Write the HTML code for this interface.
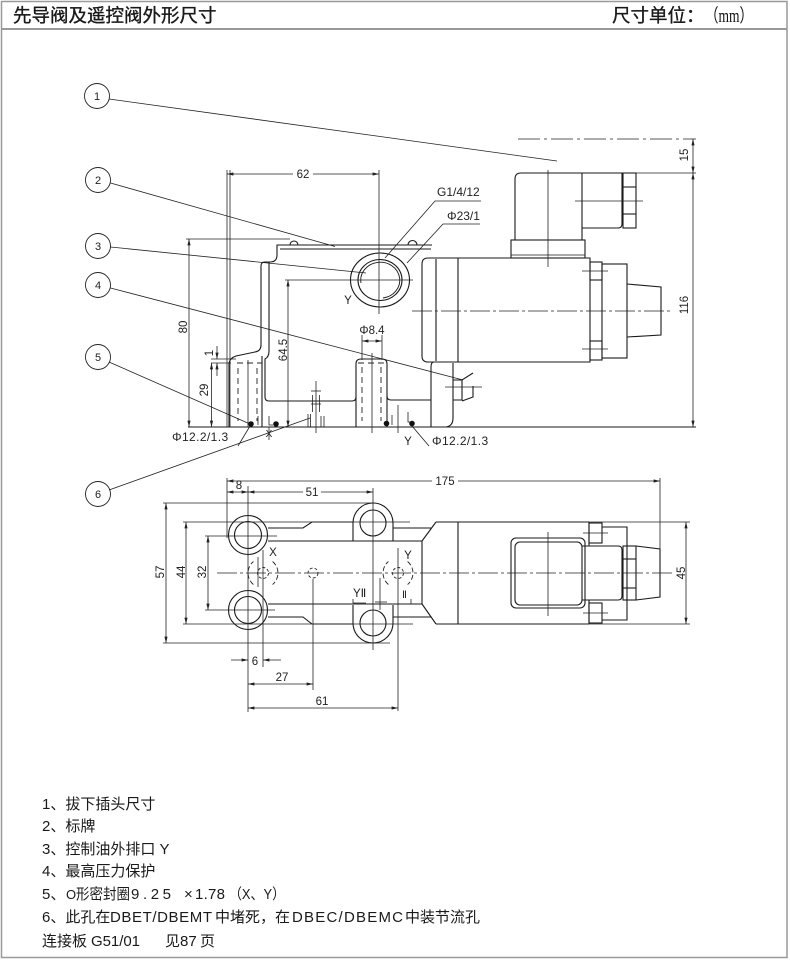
<!DOCTYPE html>
<html><head><meta charset="utf-8">
<style>
html,body{margin:0;padding:0;background:#fff;}
svg{display:block;}
.t{font-family:"Liberation Sans","Noto Sans CJK SC",sans-serif;fill:#1a1a1a;}
.d{font-family:"Liberation Sans Narrow","Liberation Sans",sans-serif;font-size:11.5px;fill:#222;}
.n{font-family:"Liberation Sans",sans-serif;font-size:11px;fill:#222;}
.l{font-family:"Liberation Sans",sans-serif;font-size:12px;fill:#222;}
</style></head><body>
<svg width="790" height="961" viewBox="0 0 790 961" xmlns="http://www.w3.org/2000/svg">
<defs>
<marker id="ar" viewBox="0 0 8 4" refX="8" refY="2" markerWidth="7" markerHeight="3.2" markerUnits="userSpaceOnUse" orient="auto-start-reverse"><path d="M0,0L8,2L0,4z" fill="#222"/></marker>
</defs>

<!-- frame -->
<rect x="1.5" y="1.5" width="785.5" height="956" fill="none" stroke="#999" stroke-width="1.5"/>
<line x1="1.5" y1="29" x2="787" y2="29" stroke="#999" stroke-width="2"/>
<text class="t" x="13" y="22" font-size="18.5" stroke="#111" stroke-width="0.35">先导阀及遥控阀外形尺寸</text>
<text class="t" x="612" y="22" font-size="18.5" stroke="#111" stroke-width="0.3">尺寸单位：</text>
<text x="705" y="22" font-size="18.5" textLength="48" lengthAdjust="spacingAndGlyphs" style="font-family:'Liberation Serif','Noto Sans CJK SC',serif;fill:#111">（mm）</text>

<!-- balloons -->
<g fill="#fff" stroke="#222" stroke-width="0.9">
<circle cx="97" cy="96" r="12.5"/>
<circle cx="98" cy="180" r="12.5"/>
<circle cx="98" cy="246" r="12.5"/>
<circle cx="98" cy="285" r="12.5"/>
<circle cx="98" cy="357" r="12.5"/>
<circle cx="98" cy="494" r="12.5"/>
</g>
<g class="n" text-anchor="middle">
<text x="97" y="100">1</text>
<text x="98" y="184">2</text>
<text x="98" y="250">3</text>
<text x="98" y="289">4</text>
<text x="98" y="361">5</text>
<text x="98" y="498">6</text>
</g>

<!-- leaders -->
<g stroke="#222" stroke-width="0.8" fill="none">
<line x1="109" y1="99" x2="557" y2="161"/>
<line x1="110.5" y1="183" x2="335" y2="246.5"/>
<line x1="110.5" y1="247" x2="366" y2="273"/>
<line x1="110.5" y1="288" x2="463" y2="380"/>
<line x1="109" y1="362" x2="250" y2="424"/>
<line x1="109" y1="490" x2="310" y2="418"/>
<line x1="250" y1="426" x2="238" y2="446"/>
<line x1="412" y1="426" x2="429" y2="446"/>
<polyline points="385,258 435,201 481,201"/>
<polyline points="407,263 443,224 480,224"/>
</g>
<text class="l" x="437" y="196">G1/4/12</text>
<text class="l" x="447" y="220">Φ23/1</text>
<text class="l" x="172" y="441" letter-spacing="0.4">Φ12.2/1.3</text>
<text class="l" x="432" y="445" letter-spacing="0.4">Φ12.2/1.3</text>

<!-- ===== SIDE VIEW ===== -->
<g stroke="#1a1a1a" stroke-width="1.1" fill="none">
<!-- top plate + neck -->
<path d="M432,245 L277,245 L277,255 Q277,262 270,262 L265,262 Q261,262 261,266 L261,345 Q261,351 255,352 L236,356 Q230,358 229,363 L229,427"/>
<path d="M290,245 A4,4 0 0 1 298,245"/>
<path d="M408,245 A4.5,4.5 0 0 1 417,245"/>
<line x1="280" y1="249" x2="431" y2="249"/>
<path d="M269,262 L269,351 Q269,357 265,359 L265,397 Q265,401 269,401 L352,401 Q356,401 356,397"/>
<line x1="262" y1="356" x2="262" y2="427"/>
<!-- right column -->
<path d="M356,427 L356,364 Q356,359 361,359 L382,359 Q387,359 387,364 L387,427"/>
<path d="M387,396 Q387,400 391,400 L431,400"/>
<!-- right lower body -->
<path d="M434,362 Q431,362 431,367 L431,427"/>
<path d="M453,363 L453,418 Q453,426 446,427"/>
<!-- element 4 -->
<path d="M453,380 L462,380 L473,373"/>
<path d="M462,380 L462,400 L453,400"/>
<path d="M473,386 L473,397 L462,401"/>
<!-- baseline -->
<line x1="188" y1="427" x2="696" y2="427"/>
<!-- port Y -->
<ellipse cx="380" cy="280" rx="29.5" ry="27"/>
<ellipse cx="380" cy="280" rx="22" ry="20.5"/>
<path d="M361,283 A19.5,18 0 1 1 383,298" stroke-width="0.9"/>
<!-- solenoid side -->
<path d="M428,258 L590,258 L590,362 L428,362 Q422,362 422,356 L422,264 Q422,258 428,258 Z"/>
<line x1="436" y1="259" x2="436" y2="361"/>
<line x1="458" y1="258" x2="458" y2="362"/>
<rect x="511" y="240" width="74" height="18"/>
<line x1="511" y1="255" x2="585" y2="255" stroke-width="0.8"/>
<path d="M521,173 L582,173 L582,240 L515,240 L515,179 Q515,173 521,173 Z"/>
<path d="M582,173 L622,173 L622,224 Q622,228 618,228 L582,228"/>
<rect x="623" y="173" width="13" height="55"/>
<line x1="623" y1="187" x2="636" y2="187"/>
<line x1="623" y1="214" x2="636" y2="214"/>
<rect x="590" y="262" width="12" height="18"/>
<rect x="590" y="341" width="12" height="19"/>
<rect x="602" y="264" width="25" height="94"/>
<path d="M627,284 L661,287 L661,335 L627,337"/>
</g>
<!-- O rings -->
<g fill="#111">
<circle cx="251" cy="424" r="2.8"/>
<circle cx="276" cy="424" r="2.8"/>
<circle cx="386.5" cy="423.5" r="2.8"/>
<circle cx="412" cy="423.5" r="2.8"/>
</g>
<!-- thin lines side view -->
<g stroke="#222" stroke-width="0.8" fill="none">
<line x1="227" y1="170" x2="227" y2="427"/>
<line x1="230" y1="170" x2="230" y2="427"/>
<line x1="379" y1="170" x2="379" y2="314"/>
<line x1="360" y1="280" x2="413" y2="280"/>
<line x1="248" y1="360" x2="248" y2="427"/>
<line x1="372" y1="353" x2="372" y2="433"/>
<line x1="211" y1="359" x2="236" y2="359"/>
<line x1="211" y1="363" x2="231" y2="363"/>
<line x1="186" y1="239" x2="290" y2="239"/>
<line x1="285" y1="280" x2="360" y2="280"/>
<!-- small marks -->
<line x1="258" y1="416" x2="258" y2="425"/>
<polyline points="269,416 269,425 273,425"/>
<line x1="392" y1="415" x2="392" y2="425"/>
<line x1="398" y1="405" x2="398" y2="433"/>
<polyline points="408,412 408,422 411,422"/>
<line x1="269" y1="427" x2="269" y2="440"/>
<!-- throttle element 6 -->
<line x1="316" y1="381" x2="316" y2="433"/>
<line x1="312.5" y1="395" x2="312.5" y2="412"/>
<line x1="319.5" y1="395" x2="319.5" y2="412"/>
<line x1="311" y1="404" x2="321" y2="404"/>
<line x1="311" y1="391" x2="321" y2="391"/>
<line x1="308" y1="414" x2="308" y2="427"/>
<line x1="310.5" y1="414" x2="310.5" y2="427"/>
<line x1="321" y1="416" x2="321" y2="427"/>
<line x1="324" y1="416" x2="324" y2="427"/>
<!-- element 4 centre -->
<line x1="445" y1="387" x2="482" y2="387"/>
<!-- solenoid centre lines -->
<line x1="548" y1="170" x2="548" y2="267"/>
<line x1="575" y1="201" x2="643" y2="201"/>
<line x1="582" y1="271" x2="608" y2="271"/>
<line x1="582" y1="349" x2="608" y2="349"/>
<line x1="412" y1="311" x2="672" y2="311" stroke-dasharray="20 3 3 3"/>
<line x1="518" y1="139" x2="696" y2="139" stroke-dasharray="22 4 3 4"/>
<line x1="622" y1="173" x2="696" y2="173"/>
</g>
<!-- hidden lines -->
<g stroke="#222" stroke-width="0.9" fill="none" stroke-dasharray="6 4">
<line x1="238" y1="368" x2="238" y2="421"/>
<line x1="257" y1="368" x2="257" y2="421"/>
<line x1="362" y1="367" x2="362" y2="421"/>
<line x1="381" y1="367" x2="381" y2="421"/>
<line x1="237" y1="363" x2="262" y2="363"/>
<line x1="358" y1="363" x2="386" y2="363"/>
</g>
<!-- side dims -->
<g stroke="#222" stroke-width="0.8" fill="none">
<line x1="227" y1="174" x2="293" y2="174" marker-start="url(#ar)"/>
<line x1="313" y1="174" x2="379" y2="174" marker-end="url(#ar)"/>
<line x1="189" y1="239" x2="189" y2="427" marker-start="url(#ar)" marker-end="url(#ar)"/>
<line x1="288" y1="280" x2="288" y2="427" marker-start="url(#ar)" marker-end="url(#ar)"/>
<line x1="211.5" y1="363" x2="211.5" y2="427" marker-start="url(#ar)" marker-end="url(#ar)"/>
<line x1="217" y1="346" x2="217" y2="359" marker-end="url(#ar)"/>
<line x1="217" y1="376" x2="217" y2="363" marker-end="url(#ar)"/>
<line x1="362" y1="335" x2="362" y2="360"/>
<line x1="382" y1="335" x2="382" y2="360"/>
<line x1="362" y1="341" x2="382" y2="341" marker-start="url(#ar)" marker-end="url(#ar)"/>
<line x1="693" y1="139" x2="693" y2="173" marker-start="url(#ar)" marker-end="url(#ar)"/>
<line x1="693" y1="173" x2="693" y2="427" marker-start="url(#ar)" marker-end="url(#ar)"/>
</g>
<g class="d">
<text x="303" y="178" text-anchor="middle">62</text>
<text x="372" y="334" text-anchor="middle">Φ8.4</text>
<text transform="translate(183,327) rotate(-90)" text-anchor="middle" dy="4">80</text>
<text transform="translate(283,350) rotate(-90)" text-anchor="middle" dy="4">64.5</text>
<text transform="translate(204,390) rotate(-90)" text-anchor="middle" dy="4">29</text>
<text transform="translate(209,353) rotate(-90)" text-anchor="middle" dy="4">1</text>
<text transform="translate(684,155) rotate(-90)" text-anchor="middle" dy="4">15</text>
<text transform="translate(684,305) rotate(-90)" text-anchor="middle" dy="4">116</text>
<text x="348" y="304" text-anchor="middle">Y</text>
<text x="269" y="437" text-anchor="middle" font-size="10">X</text>
<text x="408" y="445" text-anchor="middle">Y</text>
</g>

<!-- ===== BOTTOM VIEW ===== -->
<g stroke="#1a1a1a" stroke-width="1.1" fill="none">
<circle cx="248" cy="535" r="19.5"/>
<circle cx="248" cy="535" r="13.5"/>
<circle cx="248" cy="610" r="19.5"/>
<circle cx="248" cy="610" r="13.5"/>
<path d="M353,541 L353,523 A20,20 0 0 1 393,523 L393,541"/>
<circle cx="373" cy="523" r="13"/>
<path d="M353,605 L353,623 A20,20 0 0 0 393,623 L393,605"/>
<circle cx="373" cy="623" r="13"/>
<path d="M268,528 L303,528 L312,522 L353,522"/>
<path d="M268,617 L303,617 L312,624 L353,624"/>
<line x1="393" y1="528" x2="431" y2="528"/>
<line x1="393" y1="617" x2="431" y2="617"/>
<line x1="268" y1="541" x2="422" y2="541"/>
<line x1="268" y1="604" x2="422" y2="604"/>
<line x1="422" y1="541" x2="422" y2="604"/>
<line x1="422" y1="541" x2="436" y2="522"/>
<line x1="422" y1="604" x2="436" y2="624"/>
<!-- solenoid top view -->
<line x1="436" y1="522" x2="589" y2="522"/>
<line x1="436" y1="624" x2="589" y2="624"/>
<line x1="458" y1="522" x2="458" y2="624"/>
<line x1="589" y1="522" x2="589" y2="546"/>
<line x1="589" y1="600" x2="589" y2="624"/>
<rect x="589" y="523" width="13" height="20"/>
<rect x="589" y="603" width="13" height="20"/>
<path d="M602,527 L627,527 L627,620 L602,620"/>
<rect x="511" y="538" width="74" height="70" rx="5"/>
<rect x="515" y="542" width="67" height="63" rx="5"/>
<path d="M582,546 L618,546 Q622,546 622,550 L622,596 Q622,600 618,600 L582,600"/>
<rect x="623" y="546" width="13" height="54"/>
<line x1="623" y1="559" x2="636" y2="559"/>
<line x1="623" y1="588" x2="636" y2="588"/>
<path d="M636,546 L660,549 L660,597 L636,600"/>
</g>
<g stroke="#222" stroke-width="0.8" fill="none">
<line x1="248" y1="486" x2="248" y2="712"/>
<line x1="373" y1="488" x2="373" y2="650"/>
<line x1="217" y1="573" x2="673" y2="573" stroke-dasharray="20 3 3 3"/>
<line x1="548" y1="532" x2="548" y2="616"/>
<line x1="583" y1="533" x2="608" y2="533"/>
<line x1="583" y1="613" x2="608" y2="613"/>
<line x1="227" y1="478" x2="227" y2="538"/>
<line x1="660" y1="478" x2="660" y2="549"/>
<line x1="163" y1="503" x2="375" y2="503"/>
<line x1="163" y1="643" x2="390" y2="643"/>
<line x1="183" y1="522" x2="410" y2="522"/>
<line x1="183" y1="624" x2="413" y2="624"/>
<line x1="205" y1="536" x2="277" y2="536"/>
<line x1="205" y1="610" x2="275" y2="610"/>
<line x1="589" y1="522" x2="690" y2="522"/>
<line x1="589" y1="624" x2="690" y2="624"/>
<line x1="263" y1="550" x2="263" y2="667"/>
<line x1="258" y1="557" x2="258" y2="587"/>
<line x1="398" y1="548" x2="398" y2="711"/>
<line x1="313" y1="579" x2="313" y2="690"/>
<line x1="380" y1="578" x2="380" y2="610"/>
<line x1="375" y1="602" x2="387" y2="602"/>
<polyline points="353,599 353,603 366,603"/>
<polyline points="400,604 411,604 411,599"/>
<!-- dims -->
<line x1="227" y1="481" x2="432" y2="481" marker-start="url(#ar)"/>
<line x1="458" y1="481" x2="660" y2="481" marker-end="url(#ar)"/>
<line x1="227" y1="492" x2="248" y2="492" marker-start="url(#ar)" marker-end="url(#ar)"/>
<line x1="248" y1="492" x2="303" y2="492" marker-start="url(#ar)"/>
<line x1="321" y1="492" x2="373" y2="492" marker-end="url(#ar)"/>
<line x1="166" y1="503" x2="166" y2="643" marker-start="url(#ar)" marker-end="url(#ar)"/>
<line x1="186" y1="522" x2="186" y2="624" marker-start="url(#ar)" marker-end="url(#ar)"/>
<line x1="208" y1="536" x2="208" y2="610" marker-start="url(#ar)" marker-end="url(#ar)"/>
<line x1="686" y1="522" x2="686" y2="624" marker-start="url(#ar)" marker-end="url(#ar)"/>
<line x1="231" y1="660" x2="248" y2="660" marker-end="url(#ar)"/>
<line x1="281" y1="660" x2="263" y2="660" marker-end="url(#ar)"/>
<line x1="248" y1="684" x2="313" y2="684" marker-start="url(#ar)" marker-end="url(#ar)"/>
<line x1="248" y1="708" x2="398" y2="708" marker-start="url(#ar)" marker-end="url(#ar)"/>
</g>
<!-- ports dashed -->
<g stroke="#222" stroke-width="0.9" fill="none" stroke-dasharray="5 2.5">
<path d="M272.6,561.5 A15,15 0 0 1 272.6,584.5"/>
<path d="M253.4,584.5 A15,15 0 0 1 253.4,561.5"/>
<circle cx="263" cy="573" r="5.5" stroke-dasharray="3 2"/>
<path d="M407.6,561.5 A15,15 0 0 1 407.6,584.5"/>
<path d="M388.4,584.5 A15,15 0 0 1 388.4,561.5"/>
<circle cx="398" cy="573" r="5.5" stroke-dasharray="3 2"/>
<circle cx="313" cy="573" r="5" stroke-dasharray="3 2"/>
</g>
<g class="d">
<text x="445" y="485" text-anchor="middle">175</text>
<text x="239" y="489" text-anchor="middle">8</text>
<text x="312" y="496" text-anchor="middle">51</text>
<text transform="translate(160,572) rotate(-90)" text-anchor="middle" dy="4">57</text>
<text transform="translate(181,572) rotate(-90)" text-anchor="middle" dy="4">44</text>
<text transform="translate(202,572) rotate(-90)" text-anchor="middle" dy="4">32</text>
<text transform="translate(681,573) rotate(-90)" text-anchor="middle" dy="4">45</text>
<text x="255" y="665" text-anchor="middle">6</text>
<text x="282" y="681" text-anchor="middle">27</text>
<text x="322" y="705" text-anchor="middle">61</text>
<text x="273" y="556" text-anchor="middle">X</text>
<text x="408" y="559" text-anchor="middle">Y</text>
<text x="353" y="597">YⅡ</text>
<text x="402" y="598" font-size="10">Ⅱ</text>
</g>

<!-- notes -->
<g class="t" font-size="15">
<text x="42" y="809">1、拔下插头尺寸</text>
<text x="42" y="831">2、标牌</text>
<text x="42" y="854">3、控制油外排口 Y</text>
<text x="42" y="876">4、最高压力保护</text>
<text x="42" y="899">5、</text>
<text x="66" y="899" font-size="13">O</text>
<text x="76" y="899" textLength="54" lengthAdjust="spacingAndGlyphs">形密封圈</text>
<text x="131" y="899" textLength="40" lengthAdjust="spacing">9.25</text>
<text x="184" y="899">×</text>
<text x="195" y="899" textLength="30" lengthAdjust="spacing">1.78</text>
<text x="229" y="899" textLength="56" lengthAdjust="spacingAndGlyphs">（X、Y）</text>
<text x="42" y="922">6、此孔在</text>
<text x="110" y="922" textLength="102" lengthAdjust="spacing">DBET/DBEMT</text>
<text x="215" y="922">中堵死，在</text>
<text x="292" y="922" textLength="111" lengthAdjust="spacing">DBEC/DBEMC</text>
<text x="405" y="922">中装节流孔</text>
<text x="42" y="946">连接板</text>
<text x="91" y="946" textLength="49" lengthAdjust="spacing">G51/01</text>
<text x="165" y="946">见</text>
<text x="180" y="946">87</text>
<text x="200" y="946">页</text>
</g>
</svg>
</body></html>
